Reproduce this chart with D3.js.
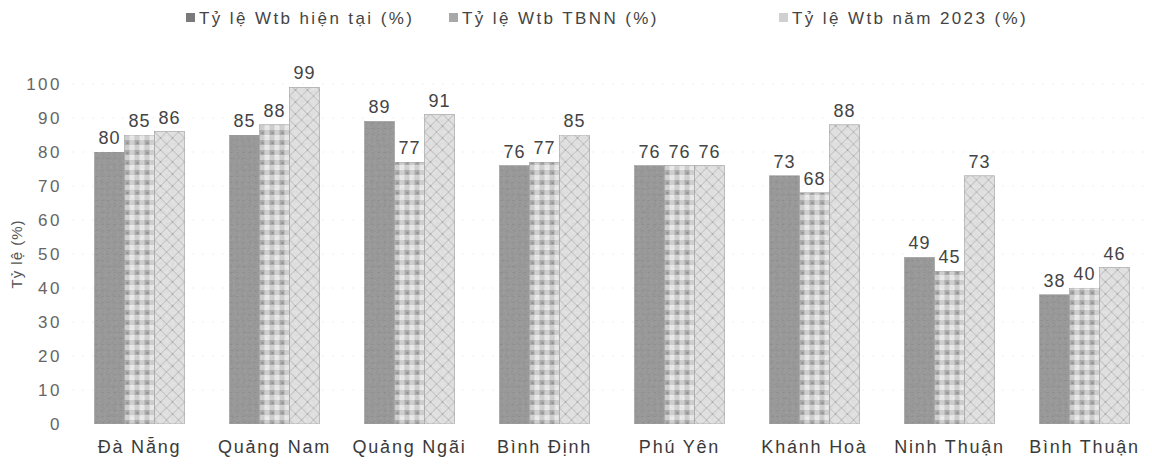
<!DOCTYPE html>
<html lang="vi">
<head>
  <meta charset="UTF-8" />
  <title>Tỷ lệ Wtb</title>
  <script src="https://d3js.org/d3.v7.min.js"></script>
  <style>
    body { margin: 0; background: #fff; font-family: "Liberation Sans", Arial, sans-serif; }
    svg { display: block; }
  </style>
</head>
<body>
<svg width="1152" height="468"></svg>
<script>
  const categories = ["Đà Nẵng", "Quảng Nam", "Quảng Ngãi", "Bình Định", "Phú Yên", "Khánh Hoà", "Ninh Thuận", "Bình Thuận"];
  const seriesNames = ["Tỷ lệ Wtb hiện tại (%)", "Tỷ lệ Wtb TBNN (%)", "Tỷ lệ Wtb năm 2023 (%)"];
  const hienTai = [80, 85, 89, 76, 76, 73, 49, 38];
  const tbnn = [85, 88, 77, 77, 76, 68, 45, 40];
  const nam2023 = [86, 99, 91, 85, 76, 88, 73, 46];
  const yTicks = [0, 10, 20, 30, 40, 50, 60, 70, 80, 90, 100];

  const seriesValues = [hienTai, tbnn, nam2023];

  const svg = d3.select("svg");
  const defs = svg.append("defs");

  // grain filter to imitate the scanned look
  const grain = defs.append("filter").attr("id", "grain")
    .attr("x", 0).attr("y", 0).attr("width", 1).attr("height", 1);
  grain.append("feTurbulence").attr("type", "fractalNoise")
    .attr("baseFrequency", 0.35).attr("numOctaves", 2).attr("seed", 3).attr("result", "n");
  grain.append("feColorMatrix").attr("in", "n").attr("type", "matrix")
    .attr("values", "0 0 0 0 0.45  0 0 0 0 0.45  0 0 0 0 0.45  0 0 0 0.35 -0.05").attr("result", "m");
  grain.append("feComposite").attr("in", "m").attr("in2", "SourceGraphic").attr("operator", "in").attr("result", "c");
  grain.append("feMerge").call(m => {
    m.append("feMergeNode").attr("in", "SourceGraphic");
    m.append("feMergeNode").attr("in", "c");
  });

  // pattern 1: dark grey
  const p1 = defs.append("pattern").attr("id", "pat1").attr("patternUnits", "userSpaceOnUse")
    .attr("width", 6).attr("height", 6);
  p1.append("rect").attr("width", 6).attr("height", 6).attr("fill", "#949494");
  p1.append("rect").attr("x", 1).attr("y", 2).attr("width", 2).attr("height", 1).attr("fill", "#878787");
  p1.append("rect").attr("x", 4).attr("y", 4).attr("width", 1).attr("height", 2).attr("fill", "#9e9e9e");

  // pattern 2: checkered plaid
  const p2 = defs.append("pattern").attr("id", "pat2").attr("patternUnits", "userSpaceOnUse")
    .attr("width", 10).attr("height", 10);
  p2.append("rect").attr("width", 10).attr("height", 10).attr("fill", "#d2d2d2");
  p2.append("rect").attr("x", 0).attr("y", 0).attr("width", 5).attr("height", 5).attr("fill", "#ababab");
  p2.append("rect").attr("x", 5).attr("y", 5).attr("width", 5).attr("height", 5).attr("fill", "#eeeeee");
  p2.append("rect").attr("x", 2).attr("y", 2).attr("width", 2).attr("height", 2).attr("fill", "#8c8c8c");

  // pattern 3: light diamond lattice
  const p3 = defs.append("pattern").attr("id", "pat3").attr("patternUnits", "userSpaceOnUse")
    .attr("width", 12).attr("height", 12);
  p3.append("rect").attr("width", 12).attr("height", 12).attr("fill", "#e5e5e5");
  p3.append("path").attr("d", "M0,0 L12,12 M12,0 L0,12").attr("stroke", "#bababa").attr("stroke-width", 1);
  p3.append("rect").attr("x", 5).attr("y", 5).attr("width", 2).attr("height", 2).attr("fill", "#acacac");

  const fills = ["url(#pat1)", "url(#pat2)", "url(#pat3)"];
  const swatch = ["#7a7a7a", "#a8a8a8", "#d0d0d0"];

  const x0 = d3.scaleBand()
    .domain(categories)
    .range([72, 1152])
    .paddingInner(1 / 3)
    .paddingOuter(1 / 6);

  const x1 = d3.scaleBand()
    .domain(d3.range(seriesNames.length))
    .range([0, x0.bandwidth()]);

  const y = d3.scaleLinear().domain([0, 100]).range([424, 84]);

  // very faint dotted gridlines (barely visible in the scan)
  svg.append("g").selectAll("line")
    .data(yTicks.filter(d => d > 0))
    .enter().append("line")
    .attr("x1", 72).attr("x2", 1152)
    .attr("y1", d => y(d)).attr("y2", d => y(d))
    .attr("stroke", "#f0f0f0")
    .attr("stroke-dasharray", "2,8");

  // Y axis labels
  const yAxis = d3.axisLeft(y).tickValues(yTicks).tickSize(0).tickPadding(0);
  const yg = svg.append("g").attr("transform", "translate(62,0)").call(yAxis);
  yg.select(".domain").remove();
  yg.selectAll("text")
    .attr("font-family", "Liberation Sans, Arial, sans-serif")
    .attr("font-size", 17)
    .attr("letter-spacing", 2.5)
    .attr("fill", "#666");

  svg.append("text")
    .attr("transform", `translate(22,${y(50)}) rotate(-90)`)
    .attr("text-anchor", "middle")
    .attr("font-size", 15)
    .attr("letter-spacing", 1)
    .attr("fill", "#555")
    .text("Tỷ lệ (%)");

  // bars
  const groups = svg.append("g").selectAll("g")
    .data(categories)
    .enter().append("g")
    .attr("transform", d => `translate(${x0(d)},0)`);

  groups.selectAll("rect")
    .data((c, i) => seriesValues.map((vals, s) => ({ s, v: vals[i] })))
    .enter().append("rect")
    .attr("x", d => x1(d.s))
    .attr("y", d => y(d.v))
    .attr("width", x1.bandwidth())
    .attr("height", d => y(0) - y(d.v))
    .attr("fill", d => fills[d.s])
    .attr("stroke", "#999")
    .attr("stroke-width", 0.6)
    .attr("filter", "url(#grain)");

  // value labels
  groups.selectAll("text.val")
    .data((c, i) => seriesValues.map((vals, s) => ({ s, v: vals[i] })))
    .enter().append("text")
    .attr("class", "val")
    .attr("x", d => x1(d.s) + x1.bandwidth() / 2)
    .attr("y", d => y(d.v) - 8)
    .attr("text-anchor", "middle")
    .attr("font-size", 18)
    .attr("letter-spacing", 1)
    .attr("fill", "#444")
    .text(d => d.v);

  // X axis labels
  const xAxis = d3.axisBottom(x0).tickSize(0).tickPadding(0);
  const xg = svg.append("g").attr("transform", "translate(0,437)").call(xAxis);
  xg.select(".domain").remove();
  xg.selectAll("text")
    .attr("font-family", "Liberation Sans, Arial, sans-serif")
    .attr("font-size", 18)
    .attr("letter-spacing", 1.8)
    .attr("fill", "#3a3a3a")
    .attr("dy", "0.9em");

  // legend
  const legendX = [186, 449, 779];
  const legend = svg.append("g").selectAll("g")
    .data(seriesNames)
    .enter().append("g")
    .attr("transform", (d, i) => `translate(${legendX[i]},18)`);
  legend.append("rect")
    .attr("x", 0).attr("y", -5)
    .attr("width", 9).attr("height", 9)
    .attr("fill", (d, i) => swatch[i]);
  legend.append("text")
    .attr("x", 13).attr("y", 6)
    .attr("font-size", 17)
    .attr("letter-spacing", 2.4)
    .attr("fill", "#444")
    .text(d => d);
</script>
</body>
</html>
